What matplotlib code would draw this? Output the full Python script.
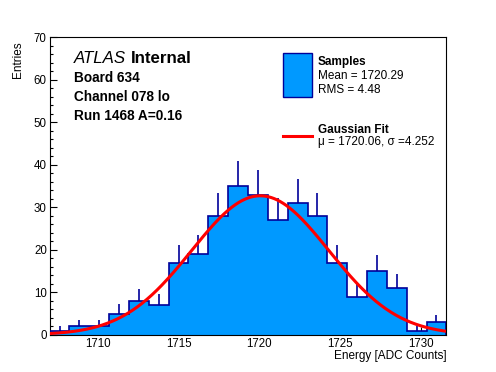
import numpy as np
import matplotlib
matplotlib.use("Agg")
import matplotlib.pyplot as plt
from matplotlib.ticker import MultipleLocator
from matplotlib.patches import Rectangle
from matplotlib.lines import Line2D

plt.rcParams['font.family'] = ['Liberation Sans', 'DejaVu Sans']

# histogram of samples (20 bins)
x_min = 1707.0
x_max = 1731.6
counts = [1, 2, 2, 5, 8, 7, 17, 19, 28, 35, 33, 27, 31, 28, 17, 9, 15, 11, 1, 3]

# gaussian fit
fit_amp = 32.7
fit_mu = 1720.06
fit_sigma = 4.252

board_lines = ["Board 634", "Channel 078 lo", "Run 1468 A=0.16"]
samples_lines = ["Mean = 1720.29", "RMS = 4.48"]
fit_line = "\u03bc = 1720.06, \u03c3 =4.252"

fill_col = '#0099ff'
edge_col = '#000099'

W, H = 496, 372
fig = plt.figure(figsize=(W / 100, H / 100), dpi=100)
ax = fig.add_axes([0.1, 0.1, 0.8, 0.8])

counts = np.array(counts, dtype=float)
edges = np.linspace(x_min, x_max, len(counts) + 1)
centers = 0.5 * (edges[:-1] + edges[1:])
err = np.sqrt(counts)

ax.vlines(centers, counts - err, counts + err, color=edge_col, lw=1.2, zorder=1)
ax.stairs(counts, edges, fill=True, color=fill_col, lw=0, zorder=2)
ax.stairs(counts, edges, fill=False, color=edge_col, lw=1.2, zorder=3)

xs = np.linspace(x_min, x_max, 400)
ys = fit_amp * np.exp(-0.5 * ((xs - fit_mu) / fit_sigma) ** 2)
ax.plot(xs, ys, color='red', lw=2.2, zorder=4)

ax.set_xlim(x_min, x_max)
ax.set_ylim(0, 70)
ax.xaxis.set_major_locator(MultipleLocator(5))
ax.xaxis.set_minor_locator(MultipleLocator(1))
ax.yaxis.set_major_locator(MultipleLocator(10))
ax.yaxis.set_minor_locator(MultipleLocator(2))
ax.tick_params(which='both', direction='in', top=False, right=False,
               labelsize=8.3, width=0.8)
ax.tick_params(axis='x', which='major', length=6, pad=2.5)
ax.tick_params(axis='x', which='minor', length=3)
ax.tick_params(axis='y', which='major', length=5, pad=2)
ax.tick_params(axis='y', which='minor', length=2.5)
for s in ax.spines.values():
    s.set_linewidth(0.8)


def px(x, y):
    return x / W, 1 - y / H


fig.text(*px(446.5, 358.5), "Energy [ADC Counts]", ha='right', va='baseline', fontsize=8.5)
fig.text(*px(18.5, 41), "Entries", ha='center', va='top', rotation=90, fontsize=8.5)

# ATLAS label
fig.text(*px(74, 62.7), "ATLAS", style='italic', fontsize=12.2, va='baseline')
fig.text(*px(131, 62.7), "Internal", fontweight='bold', fontsize=12.2, va='baseline')
for i, t in enumerate(board_lines):
    fig.text(*px(74, 81.7 + 19.2 * i), t, fontweight='bold', fontsize=9.8, va='baseline')

# legend
bx, by = px(283.3, 96.7)
fig.patches.append(Rectangle((bx, by), 28.4 / W, 43.4 / H, transform=fig.transFigure,
                             facecolor=fill_col, edgecolor=edge_col, lw=1))
fig.text(*px(317.7, 65), "Samples", fontweight='bold', fontsize=8.5, va='baseline')
for i, t in enumerate(samples_lines):
    fig.text(*px(317.7, 79.3 + 14 * i), t, fontsize=8.5, va='baseline')
lx0, ly = px(283, 136)
lx1, _ = px(312, 136)
fig.lines.append(Line2D([lx0, lx1], [ly, ly], transform=fig.transFigure, color='red', lw=2.2))
fig.text(*px(317.7, 132.7), "Gaussian Fit", fontweight='bold', fontsize=8.5, va='baseline')
fig.text(*px(317.7, 145.5), fit_line, fontsize=8.5, va='baseline')

fig.savefig("out.png", dpi=100)
